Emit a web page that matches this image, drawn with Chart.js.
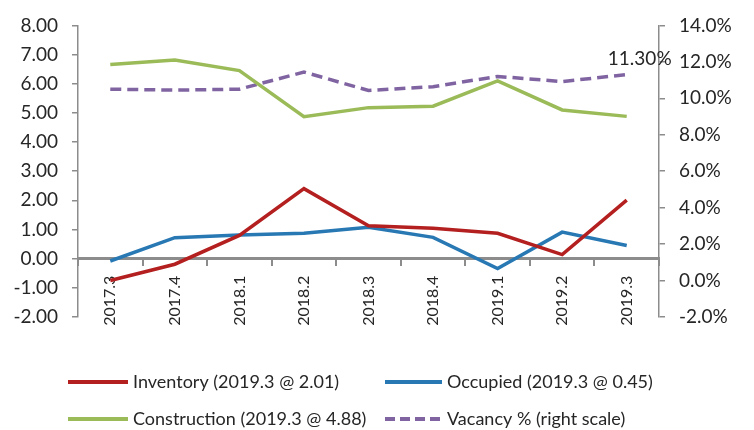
<!DOCTYPE html>
<html><head><meta charset="utf-8">
<script src="https://cdn.jsdelivr.net/npm/chart.js@4/dist/chart.umd.min.js"></script>
<style>html,body{margin:0;padding:0;background:#fff;} #wrap{width:754px;height:430px;position:relative;}</style>
</head><body><div id="wrap"><canvas id="c" width="754" height="430"></canvas></div>
<script>
const categories = ['2017.3','2017.4','2018.1','2018.2','2018.3','2018.4','2019.1','2019.2','2019.3'];
const inventory = [-0.75, -0.19, 0.80, 2.40, 1.13, 1.04, 0.87, 0.14, 2.01];
const occupied = [-0.08, 0.72, 0.81, 0.87, 1.08, 0.73, -0.34, 0.91, 0.45];
const construction = [6.66, 6.81, 6.45, 4.87, 5.18, 5.23, 6.10, 5.10, 4.88];
const vacancy = [10.50, 10.45, 10.50, 11.44, 10.43, 10.64, 11.20, 10.92, 11.30];
const seriesLabels = ['Inventory (2019.3 @ 2.01)', 'Occupied (2019.3 @ 0.45)', 'Construction (2019.3 @ 4.88)', 'Vacancy % (right scale)'];
const vacancyLabel = '11.30%';

const FONT = 'Lato, "Open Sans", sans-serif';
const TXT = '#262626';
const AX = '#8c8c8c';

const pointLabel = {
  id: 'pointLabel',
  afterDatasetsDraw(chart) {
    const meta = chart.getDatasetMeta(3);
    const p = meta.data[meta.data.length - 1];
    const ctx = chart.ctx;
    ctx.save();
    ctx.font = '19px ' + FONT;
    ctx.fillStyle = TXT;
    ctx.textAlign = 'center';
    ctx.textBaseline = 'middle';
    ctx.fillText(vacancyLabel, p.x + 13, p.y - 16);
    ctx.restore();
  }
};

const customLegend = {
  id: 'customLegend',
  afterDraw(chart) {
    const ctx = chart.ctx;
    const lineStart = [68, 385], lineEnd = [128, 442], textStart = [133, 447];
    const rows = [382, 419];
    ctx.save();
    chart.data.datasets.forEach((ds, i) => {
      const c = i % 2, y = rows[Math.floor(i / 2)];
      ctx.strokeStyle = ds.borderColor;
      ctx.lineWidth = 4;
      ctx.setLineDash(ds.borderDash ? [10, 5] : []);
      ctx.beginPath();
      ctx.moveTo(lineStart[c], y);
      ctx.lineTo(lineEnd[c], y);
      ctx.stroke();
      ctx.setLineDash([]);
      ctx.font = '18px ' + FONT;
      ctx.fillStyle = TXT;
      ctx.textAlign = 'left';
      ctx.textBaseline = 'middle';
      ctx.fillText(ds.label, textStart[c], y);
    });
    ctx.restore();
  }
};

new Chart(document.getElementById('c'), {
  type: 'line',
  data: {
    labels: categories,
    datasets: [
      { label: seriesLabels[0], data: inventory, borderColor: '#b41f1f', yAxisID: 'y' },
      { label: seriesLabels[1], data: occupied, borderColor: '#2878b4', yAxisID: 'y' },
      { label: seriesLabels[2], data: construction, borderColor: '#9bbb59', yAxisID: 'y' },
      { label: seriesLabels[3], data: vacancy, borderColor: '#8064a2', borderDash: [11, 6], yAxisID: 'y1' }
    ]
  },
  options: {
    responsive: false,
    devicePixelRatio: 1,
    animation: false,
    layout: { padding: { top: 17, bottom: 113, left: 0, right: 0 } },
    elements: {
      line: { borderWidth: 3.5, tension: 0, fill: false },
      point: { radius: 0, hoverRadius: 0 }
    },
    plugins: { legend: { display: false }, tooltip: { enabled: false } },
    scales: {
      x: {
        position: { y: 0 },
        offset: true,
        grid: { display: true, drawOnChartArea: false, drawTicks: true, tickLength: 6, color: AX, lineWidth: 2, offset: true },
        border: { display: true, color: AX, width: 3 },
        ticks: { minRotation: 90, maxRotation: 90, padding: 11, color: TXT, font: { family: FONT, size: 16 } }
      },
      y: {
        position: 'left',
        min: -2, max: 8,
        grid: { drawOnChartArea: false, drawTicks: true, tickLength: 6, color: AX, lineWidth: 1.5 },
        border: { display: true, color: AX, width: 1.5 },
        ticks: { stepSize: 1, padding: 14, color: TXT, font: { family: FONT, size: 19 }, callback: v => v.toFixed(2) },
        afterFit: s => { s.width = 78; }
      },
      y1: {
        position: 'right',
        min: -2, max: 14,
        grid: { drawOnChartArea: false, drawTicks: true, tickLength: 6, color: AX, lineWidth: 1.5 },
        border: { display: true, color: AX, width: 1.5 },
        ticks: { stepSize: 2, padding: 14, color: TXT, font: { family: FONT, size: 19 }, callback: v => v.toFixed(1) + '%' },
        afterFit: s => { s.width = 95; }
      }
    }
  },
  plugins: [pointLabel, customLegend]
});
</script>
</body></html>
